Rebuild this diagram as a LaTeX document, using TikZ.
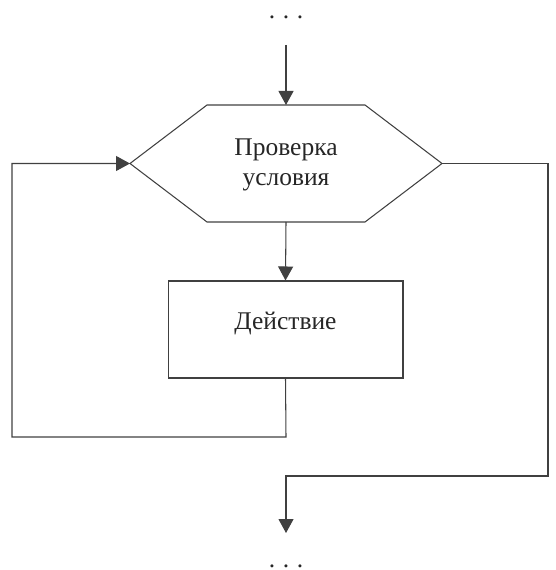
\documentclass[tikz,border=0pt]{standalone}
\usepackage{fontspec}
\setmainfont{Liberation Serif}
\usetikzlibrary{arrows.meta}

\tikzset{
  line/.style={draw=black!75, line width=0.6pt},
  flow/.style={line, -{Triangle[length=0.28cm, width=0.3cm]}},
  txt/.style={font=\fontsize{14.5}{17.5}\selectfont, text=black!85, align=center},
  proc/.style={line, txt, rectangle, minimum width=4.7cm, minimum height=1.94cm,
    text height=1ex, text depth=1ex},
}

\begin{document}
\begin{tikzpicture}[x=0.02cm, y=-0.02cm]
  \useasboundingbox (0,0) rectangle (555,570);
  \node[txt, anchor=base] (dotsin) at (286,19) {.\hspace{0.3em}.\hspace{0.3em}.};
  \coordinate (entry) at (286,45);

  % check (hexagon)
  \node[txt] (cond) at (286,165) {Проверка\\условия};
  \coordinate (hl) at (130,163.5);
  \coordinate (hr) at (442,163.5);
  \coordinate (ht) at (286,105);
  \coordinate (hb) at (286,222);
  \draw[line] (hl) -- (207,105) -- (365,105) -- (hr) -- (365,222) -- (207,222) -- cycle;

  \node[proc] (act) at (285.5,329.5) {Действие};

  \coordinate (exit) at (286,533);
  \node[txt, anchor=base] (dotsout) at (286,567) {.\hspace{0.3em}.\hspace{0.3em}.};

  \draw[flow] (entry) -- (ht);
  \draw[flow] (hb) -- (act.north);
  \draw[flow] (act.south) -- (286,437) -- (12,437) -- (12,163.5) -- (hl);
  \draw[flow] (hr) -- (548,163.5) -- (548,476) -- (286,476) -- (exit);
\end{tikzpicture}
\end{document}
